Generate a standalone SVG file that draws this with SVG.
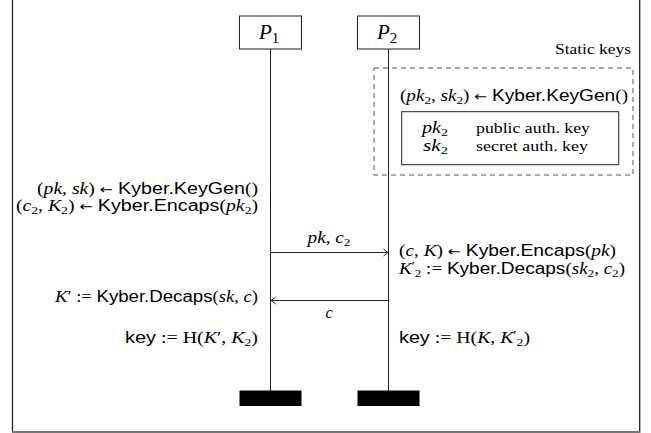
<svg xmlns="http://www.w3.org/2000/svg" width="651" height="433" viewBox="0 0 651 433">
<style>
.rm{font-family:"Liberation Serif",serif;font-size:15px;fill:#000}
.m{font-family:"Liberation Serif",serif;font-size:16px;fill:#000}
.i{font-style:italic}
.s{font-family:"Liberation Sans",sans-serif}
.a{font-family:"DejaVu Sans",sans-serif;font-size:13px}
.sb{font-size:11px;font-style:normal}
.pr{font-size:12px}
.box{fill:#fff;stroke:#222;stroke-width:1}
.life{stroke:#222;stroke-width:1}
.bar{fill:#000}
.msg{stroke:#222;stroke-width:1;fill:none}
</style>
<defs>
<marker id="arr" viewBox="-6 -5 8 10" markerWidth="8" markerHeight="10" refX="0" refY="0" orient="auto" markerUnits="userSpaceOnUse">
<path d="M-4.5,-3.5 Q-1.5,-0.8 0,0 Q-1.5,0.8 -4.5,3.5" fill="none" stroke="#222" stroke-width="1"/>
</marker>
</defs>
<rect width="651" height="433" fill="#fff"/>
<path d="M12.5,0 V431" stroke="#222" stroke-width="1.3" fill="none"/>
<path d="M639.7,0 V431" stroke="#222" stroke-width="1.3" fill="none"/>
<path d="M12,432 H640.5" stroke="#777" stroke-width="2" fill="none"/>

<g id="static-keys">
<rect x="374" y="68" width="259" height="107" fill="none" stroke="#555" stroke-width="1" stroke-dasharray="5,4"/>
<text class="rm" x="631" y="54" text-anchor="end" textLength="76" lengthAdjust="spacingAndGlyphs">Static keys</text>
<text class="m" x="400" y="101" textLength="228" lengthAdjust="spacingAndGlyphs">(<tspan class="i">pk</tspan><tspan class="sb" dy="3">2</tspan><tspan dy="-3">, </tspan><tspan class="i">sk</tspan><tspan class="sb" dy="3">2</tspan><tspan dy="-3">) </tspan><tspan class="a">←</tspan> <tspan class="s">Kyber.KeyGen</tspan>()</text>
<rect x="401.7" y="111.7" width="217" height="53" fill="none" stroke="#222" stroke-width="1"/>
<text class="m" x="422" y="133" textLength="26" lengthAdjust="spacingAndGlyphs"><tspan class="i">pk</tspan><tspan class="sb" dy="3">2</tspan></text>
<text class="rm" x="476" y="133" textLength="114" lengthAdjust="spacingAndGlyphs">public auth. key</text>
<text class="m" x="423" y="151" textLength="25" lengthAdjust="spacingAndGlyphs"><tspan class="i">sk</tspan><tspan class="sb" dy="3">2</tspan></text>
<text class="rm" x="476" y="151" textLength="112" lengthAdjust="spacingAndGlyphs">secret auth. key</text>
</g>

<g id="P1">
<rect class="box" x="239.5" y="16" width="62" height="33"/>
<text class="m" x="259" y="38.5" style="font-size:21px"><tspan class="i">P</tspan><tspan dy="4" style="font-size:15px">1</tspan></text>
<line class="life" x1="270.5" y1="49" x2="270.5" y2="391"/>
<rect class="bar" x="239.5" y="390.5" width="62" height="15.5"/>
</g>

<g id="P2">
<rect class="box" x="357.5" y="16" width="62" height="33"/>
<text class="m" x="377" y="38.5" style="font-size:21px"><tspan class="i">P</tspan><tspan dy="4" style="font-size:15px">2</tspan></text>
<line class="life" x1="388.5" y1="49" x2="388.5" y2="391"/>
<rect class="bar" x="357.5" y="390.5" width="62" height="15.5"/>
</g>

<g id="P1-steps">
<text class="m" x="258" y="194" text-anchor="end" textLength="221" lengthAdjust="spacingAndGlyphs">(<tspan class="i">pk</tspan>, <tspan class="i">sk</tspan>) <tspan class="a">←</tspan> <tspan class="s">Kyber.KeyGen</tspan>()</text>
<text class="m" x="258" y="211" text-anchor="end" textLength="242" lengthAdjust="spacingAndGlyphs">(<tspan class="i">c</tspan><tspan class="sb" dy="3">2</tspan><tspan dy="-3">, </tspan><tspan class="i">K</tspan><tspan class="sb" dy="3">2</tspan><tspan dy="-3">) </tspan><tspan class="a">←</tspan> <tspan class="s">Kyber.Encaps</tspan>(<tspan class="i">pk</tspan><tspan class="sb" dy="3">2</tspan><tspan dy="-3">)</tspan></text>
<text class="m" x="258" y="302" text-anchor="end" textLength="203" lengthAdjust="spacingAndGlyphs"><tspan class="i">K</tspan>′ := <tspan class="s">Kyber.Decaps</tspan>(<tspan class="i">sk</tspan>, <tspan class="i">c</tspan>)</text>
<text class="m" x="258" y="343" text-anchor="end" textLength="133" lengthAdjust="spacingAndGlyphs"><tspan class="s">key</tspan> := H(<tspan class="i">K</tspan>′, <tspan class="i">K</tspan><tspan class="sb" dy="3">2</tspan><tspan dy="-3">)</tspan></text>
</g>

<g id="P2-steps">
<text class="m" x="399" y="256" textLength="217" lengthAdjust="spacingAndGlyphs">(<tspan class="i">c</tspan>, <tspan class="i">K</tspan>) <tspan class="a">←</tspan> <tspan class="s">Kyber.Encaps</tspan>(<tspan class="i">pk</tspan>)</text>
<text class="m" x="399" y="274" textLength="226" lengthAdjust="spacingAndGlyphs"><tspan class="i">K</tspan><tspan class="pr" dy="-4">′</tspan><tspan class="sb" dy="7">2</tspan><tspan dy="-3"> := </tspan><tspan class="s">Kyber.Decaps</tspan>(<tspan class="i">sk</tspan><tspan class="sb" dy="3">2</tspan><tspan dy="-3">, </tspan><tspan class="i">c</tspan><tspan class="sb" dy="3">2</tspan><tspan dy="-3">)</tspan></text>
<text class="m" x="399" y="343" textLength="131" lengthAdjust="spacingAndGlyphs"><tspan class="s">key</tspan> := H(<tspan class="i">K</tspan>, <tspan class="i">K</tspan><tspan class="pr" dy="-4">′</tspan><tspan class="sb" dy="7">2</tspan><tspan dy="-3">)</tspan></text>
</g>

<g id="connectors">
<line class="msg" x1="270.5" y1="252.5" x2="388" y2="252.5" marker-end="url(#arr)"/>
<text class="m" x="329" y="243" text-anchor="middle" textLength="43" lengthAdjust="spacingAndGlyphs"><tspan class="i">pk</tspan>, <tspan class="i">c</tspan><tspan class="sb" dy="3">2</tspan></text>
<line class="msg" x1="388.5" y1="300.5" x2="271" y2="300.5" marker-end="url(#arr)"/>
<text class="m i" x="329" y="318" text-anchor="middle">c</text>
</g>
</svg>
